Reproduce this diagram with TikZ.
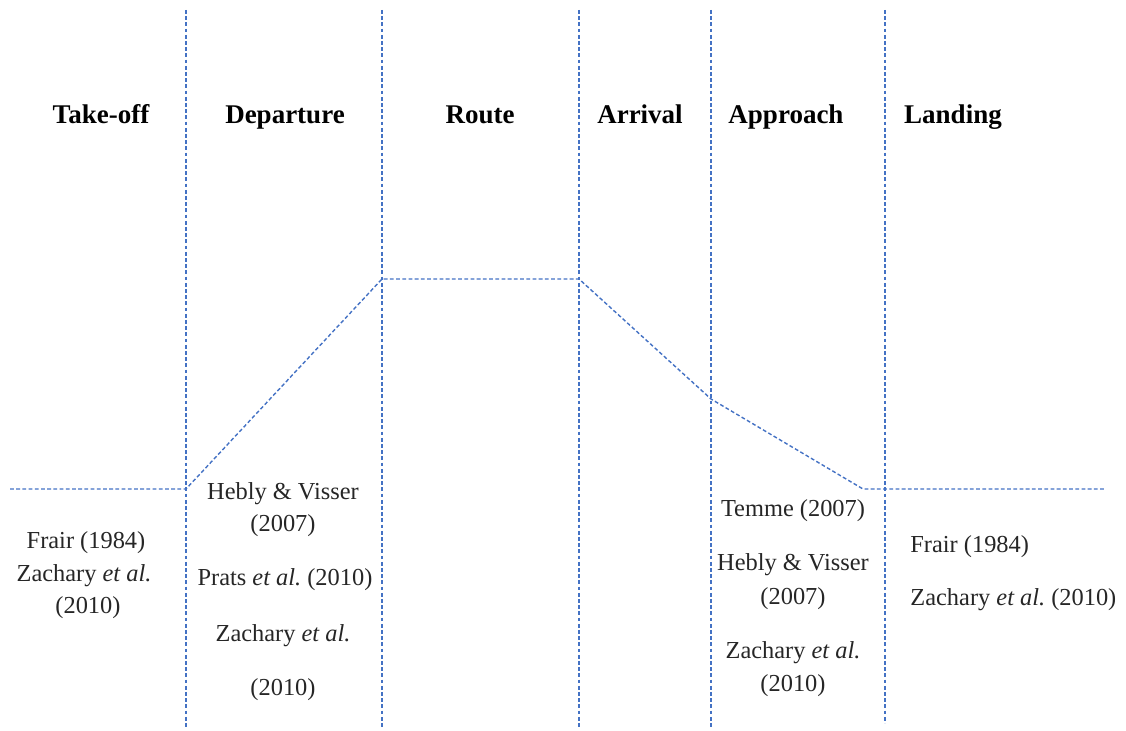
\documentclass[tikz,border=0pt]{standalone}
\usepackage{fontspec}
\setmainfont{Liberation Serif}
\definecolor{lineblue}{RGB}{68,114,196}
\tikzset{
  phaseline/.style={lineblue, line width=0.7pt, dash pattern=on 1.9pt off 1.2pt},
  heading/.style={font=\fontsize{13.5}{15}\selectfont\bfseries, text=black, anchor=base},
  ref/.style={font=\fontsize{12.2}{14}\selectfont\frenchspacing, text=black!85, inner sep=0pt, anchor=base}
}
\begin{document}
\begin{tikzpicture}[x=0.5pt, y=-0.5pt]

  % Fix the size of the picture
  \useasboundingbox (0,0) rectangle (1126,731);

  % Define the x positions of the phase boundaries
  \def\xA{186}
  \def\xB{382}
  \def\xC{579}
  \def\xD{711}
  \def\xE{885}

  % Define the corners of the flight profile
  \coordinate (start) at (10,489);
  \coordinate (liftoff) at (\xA,489);
  \coordinate (topclimb) at (\xB,279);
  \coordinate (topdescent) at (\xC,279);
  \coordinate (approachfix) at (\xD,399);
  \coordinate (touchdown) at (863,489);
  \coordinate (stop) at (1105,489);

  % Draw the phase boundaries
  \draw[phaseline] (\xA,10) -- (\xA,727);
  \draw[phaseline] (\xB,10) -- (\xB,727);
  \draw[phaseline] (\xC,10) -- (\xC,727);
  \draw[phaseline] (\xD,10) -- (\xD,727);
  \draw[phaseline] (\xE,10) -- (\xE,723);

  % Draw the flight profile
  \draw[phaseline] (start) -- (liftoff) -- (topclimb) -- (topdescent)
    -- (approachfix) -- (touchdown) -- (stop);

  % Add the phase names (on a common baseline)
  \node[heading] (takeoff) at (101,124) {Take-off};
  \node[heading] (departure) at (285,124) {Departure};
  \node[heading] (route) at (480,124) {Route};
  \node[heading] (arrival) at (640,124) {Arrival};
  \node[heading] (approach) at (786,124) {Approach};
  \node[heading] (landing) at (953,124) {Landing};

  % Add the references for take-off
  \node[ref] (to1) at (86,549) {Frair (1984)};
  \node[ref] (to2) at (84,582) {Zachary \textit{et al.}};
  \node[ref] (to3) at (88,614) {(2010)};

  % Add the references for departure
  \node[ref] (dp1) at (283,500) {Hebly \& Visser};
  \node[ref] (dp2) at (283,532) {(2007)};
  \node[ref] (dp3) at (285,586) {Prats \textit{et al.} (2010)};
  \node[ref] (dp4) at (283,642) {Zachary \textit{et al.}};
  \node[ref] (dp5) at (283,696) {(2010)};

  % Add the references for approach
  \node[ref] (ap1) at (793,517) {Temme (2007)};
  \node[ref] (ap2) at (793,571) {Hebly \& Visser};
  \node[ref] (ap3) at (793,605) {(2007)};
  \node[ref] (ap4) at (793,659) {Zachary \textit{et al.}};
  \node[ref] (ap5) at (793,692) {(2010)};

  % Add the references for landing
  \node[ref, anchor=base west] (ld1) at (910,553) {Frair (1984)};
  \node[ref, anchor=base west] (ld2) at (910,606) {Zachary \textit{et al.} (2010)};

\end{tikzpicture}
\end{document}
